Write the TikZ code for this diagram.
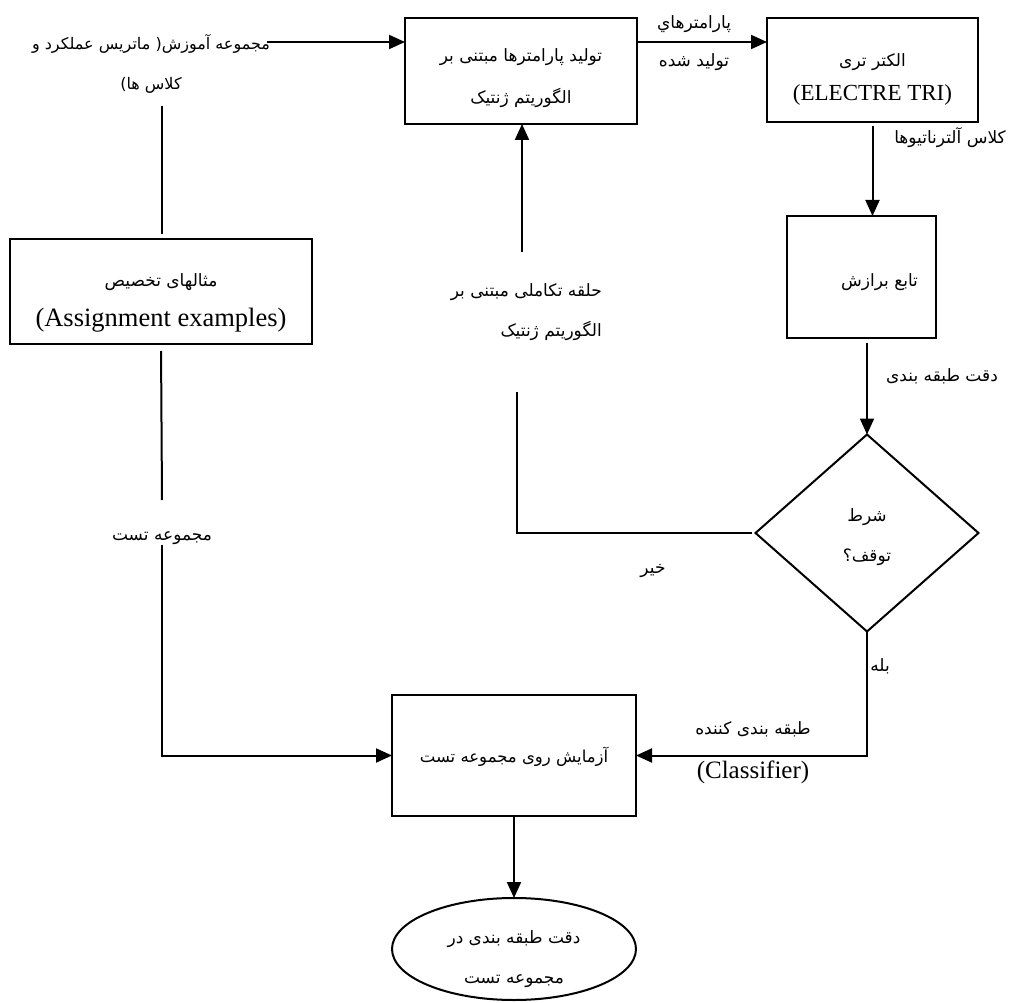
\documentclass[tikz,border=0pt]{standalone}
\usepackage{fontspec}
\setmainfont{Liberation Serif}
\newfontfamily\arabicfont[Script=Arabic]{DejaVu Sans}
\TeXXeTstate=1
\usetikzlibrary{arrows.meta,shapes.geometric,calc}
\newcommand\fatext[1]{{\arabicfont\beginR #1\endR}}
\newcommand\tp[1]{\rule{0pt}{#1pt}}
\newcommand\bt[1]{\rule[-#1pt]{0pt}{0pt}}
\tikzset{
  conn/.style={line width=2pt, draw=black},
  arr/.style={conn, -{Triangle[length=16pt,width=14pt]}},
  boxnode/.style={draw, line width=2pt, inner sep=0pt, outer sep=0pt, align=center},
  fa/.style={font=\fontsize{17}{40}\selectfont, inner sep=0pt, align=center},
}
\begin{document}
\begin{tikzpicture}[x=1pt,y=-1pt]
\useasboundingbox[fill=white] (0,0) rectangle (1013,1003);

% boxes
\node[boxnode, minimum width=232pt, minimum height=106pt, font=\fontsize{17}{42}\selectfont] (gen) at (521,71)
  {\tp{31}\fatext{تولید پارامترها مبتنی بر}\\\fatext{الگوریتم ژنتیک}\bt{7}};
\node[boxnode, minimum width=211pt, minimum height=104pt, font=\fontsize{17}{34}\selectfont] (elec) at (872.5,70)
  {\tp{34}\fatext{الکتر تری}\\{\fontsize{23}{34}\selectfont (ELECTRE TRI)}\bt{6}};
\node[boxnode, minimum width=149pt, minimum height=122pt, font=\fontsize{17}{20}\selectfont] (fit) at (861.5,277)
  {\hspace*{36pt}\tp{28}\fatext{تابع برازش}\bt{8}};
\node[diamond, draw, line width=2pt, inner sep=0pt, outer sep=0pt, minimum width=223pt, minimum height=197pt, align=center, font=\fontsize{17}{40}\selectfont] (dia) at (867,533)
  {\tp{25}\fatext{شرط}\\\fatext{توقف؟}\bt{8}};
\node[boxnode, minimum width=302pt, minimum height=105pt, font=\fontsize{17}{40}\selectfont] (assign) at (161,291.5)
  {\tp{38}\fatext{مثالهای تخصیص}\\{\fontsize{26.5}{40}\selectfont (Assignment examples)}\bt{8}};
\node[boxnode, minimum width=244pt, minimum height=121pt, font=\fontsize{16.5}{20}\selectfont] (test) at (514,755.5)
  {\tp{22}\fatext{آزمایش روی مجموعه تست}\bt{8}};
\node[ellipse, draw, line width=2pt, inner xsep=0pt, inner ysep=-8pt, outer sep=0pt, minimum width=244pt, minimum height=102pt, align=center, font=\fontsize{17}{40}\selectfont] (ell) at (514,949)
  {\tp{36}\fatext{دقت طبقه بندی در}\\\fatext{مجموعه تست}\bt{8}};

% free texts
\node[fa, font=\fontsize{16}{40}\selectfont] (train) at (151,66) {\tp{20}\fatext{مجموعه آموزش( ماتریس عملکرد و}\\\fatext{کلاس ها)}\bt{12}};
\node[fa, font=\fontsize{17}{38}\selectfont] (lgen) at (694,44) {\tp{20}\fatext{پارامترهاي}\\\fatext{تولید شده}\bt{12}};
\node[fa] (lclass) at (950,138) {\fatext{کلاس آلترناتیوها}};
\node[fa] (lacc) at (942,376) {\fatext{دقت طبقه بندی}};
\node[fa, align=right, anchor=east] (lloop) at (602,310) {\tp{24}\fatext{حلقه تکاملی مبتنی بر}\\\fatext{الگوریتم ژنتیک}\bt{10}};
\node[fa] (lno) at (653,571) {\fatext{خیر}};
\node[fa] (lyes) at (880,666) {\fatext{بله}};
\node[fa, font=\fontsize{17}{44}\selectfont] (lclf) at (753,751) {\tp{22}\fatext{طبقه بندی کننده}\\{\fontsize{25}{44}\selectfont (Classifier)}\bt{12}};
\node[fa] (ltest) at (162,538) {\fatext{مجموعه تست}};

% helper coordinates
\coordinate (trainR) at (267,42);
\coordinate (a1) at (162,106);
\coordinate (a2) at (162,500);
\coordinate (loopt) at (517,392);
\coordinate (loopb) at (522,252);

% connectors
\draw[arr] (trainR) -- (trainR -| gen.west);
\draw[arr] (gen.east |- trainR) -- (elec.west |- trainR);
\draw[arr] ([yshift=-4pt]elec.south) -- (elec.south |- fit.north);
\draw[arr] ([yshift=-5pt]fit.south -| dia.north) -- (dia.north);
\draw[conn] ([xshift=-4pt]dia.west) -- (dia.west -| loopt) -- (loopt);
\draw[arr] (loopb) -- (loopb |- gen.south);
\draw[arr] (dia.south) -- (dia.south |- test.east) -- (test.east);
\draw[conn, shorten >=5pt] (a1) -- (a1 |- assign.north);
\draw[conn, shorten <=7pt] (assign.south) -- (a2);
\draw[arr] (ltest.south) -- (ltest.south |- test.west) -- (test.west);
\draw[arr] (test.south) -- (ell.north);
\end{tikzpicture}
\end{document}
